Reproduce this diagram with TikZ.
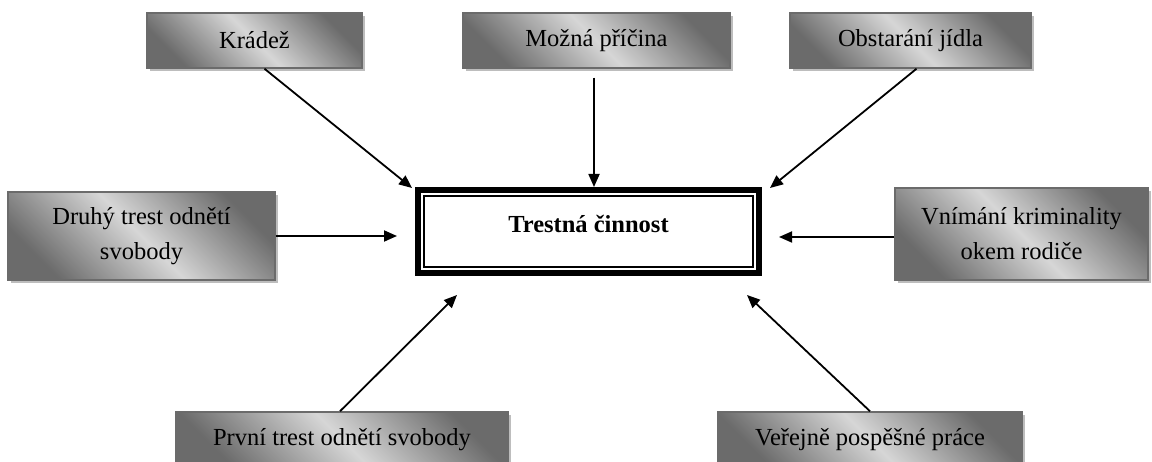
\documentclass[tikz,border=0pt]{standalone}
\usepackage{fontspec}
\setmainfont{Liberation Serif}
\usetikzlibrary{shadows,arrows.meta}
\definecolor{boxdark}{gray}{0.42}
\definecolor{boxlight}{gray}{0.84}
\definecolor{boxedge}{gray}{0.42}
\definecolor{shadowgray}{gray}{0.74}
\tikzset{
  gbox/.style={draw=boxedge, line width=1.5pt, inner sep=0pt, align=center,
    top color=boxdark, bottom color=boxdark, middle color=boxlight, shading angle=-45,
    drop shadow={shadow xshift=3pt, shadow yshift=-3pt, fill=shadowgray, opacity=1},
    font=\fontsize{24.5pt}{35pt}\selectfont},
  arr/.style={line width=1.8pt, -{Triangle[length=13pt,width=11pt]}},
}
\begin{document}
\begin{tikzpicture}[x=1pt,y=-1pt]
\useasboundingbox (0,0) rectangle (1152,462);
% outer boxes
\node[gbox, minimum width=215pt, minimum height=55pt] (kradez) at (254.5,40.5) {Krádež};
\node[gbox, minimum width=267pt, minimum height=55pt] (mozna) at (596.5,40.5) {Možná příčina};
\node[gbox, minimum width=241pt, minimum height=55pt] (obst) at (910.5,40.5) {Obstarání jídla};
\node[gbox, minimum width=267pt, minimum height=88pt] (druhy) at (141.5,236) {Druhý trest odnětí\\svobody};
\node[gbox, minimum width=253pt, minimum height=92pt] (vnimani) at (1021.5,234) {Vnímání kriminality\\okem rodiče};
\node[gbox, minimum width=332pt, minimum height=55pt] (prvni) at (342,439.5) {První trest odnětí svobody};
\node[gbox, minimum width=304pt, minimum height=55pt] (verejne) at (870,439.5) {Veřejně pospěšné práce};
% central box
\node[minimum width=347pt, minimum height=89pt, inner sep=0pt] (tc) at (588.5,231.5) {};
\draw[line width=6.6pt] ([shift={(3.3pt,-3.3pt)}]tc.north west) rectangle ([shift={(-3.3pt,3.3pt)}]tc.south east);
\draw[line width=1.5pt] ([shift={(9.05pt,-9.05pt)}]tc.north west) rectangle ([shift={(-9.05pt,9.05pt)}]tc.south east);
\node[font=\bfseries\fontsize{24.5pt}{30pt}\selectfont] (tctext) at (588.5,224) {Trestná činnost};
% tips
\coordinate (tipK) at (412,188);
\coordinate (tipM) at (594,187);
\coordinate (tipO) at (770,188);
\coordinate (tipD) at (397,236);
\coordinate (tipV) at (779,237);
\coordinate (tipP) at (457,295);
\coordinate (tipW) at (747,295);
% arrows
\draw[arr] ([xshift=10pt]kradez.south) -- (tipK);
\draw[arr] ([shift={(-2.5pt,-9pt)}]mozna.south) -- (tipM);
\draw[arr] ([xshift=6pt]obst.south) -- (tipO);
\draw[arr] (druhy.east) -- (tipD);
\draw[arr] ([yshift=-3pt]vnimani.west) -- (tipV);
\draw[arr] ([xshift=-2pt]prvni.north) -- (tipP);
\draw[arr] (verejne.north) -- (tipW);
\end{tikzpicture}
\end{document}
